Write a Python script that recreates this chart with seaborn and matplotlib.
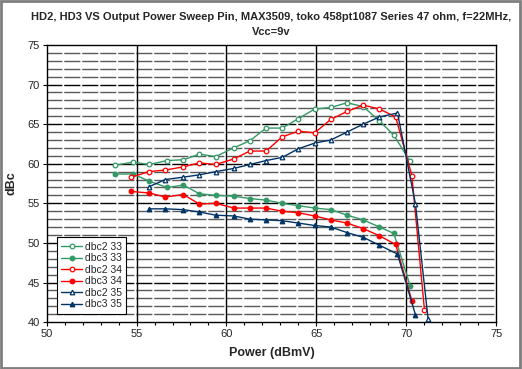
import matplotlib
matplotlib.use("Agg")
import matplotlib.pyplot as plt
import numpy as np
import pandas as pd
import seaborn as sns
from matplotlib.ticker import MultipleLocator
from matplotlib.patches import Rectangle

# data
x_33 = [53.8, 54.8, 55.7, 56.7, 57.6, 58.5, 59.4, 60.4, 61.3, 62.2, 63.1, 64.0, 64.9, 65.8, 66.7, 67.6, 68.5, 69.3, 70.2]
dbc2_33 = [59.8, 60.2, 59.9, 60.4, 60.5, 61.2, 60.9, 62.0, 62.9, 64.5, 64.5, 65.7, 66.9, 67.1, 67.7, 67.2, 65.4, 63.6, 60.3]
dbc3_33 = [58.7, 58.7, 57.8, 57.0, 57.3, 56.2, 56.0, 55.9, 55.6, 55.4, 55.0, 54.7, 54.4, 54.2, 53.5, 52.9, 52.0, 51.2, 44.6]

x2_34 = [54.7, 55.7, 56.6, 57.6, 58.5, 59.4, 60.4, 61.3, 62.2, 63.1, 64.0, 64.9, 65.8, 66.7, 67.6, 68.5, 69.4, 70.3, 71.0]
dbc2_34 = [58.3, 59.0, 59.2, 59.6, 60.1, 59.9, 60.6, 61.6, 61.6, 63.4, 64.1, 63.9, 65.6, 66.6, 67.4, 66.9, 65.9, 58.5, 41.5]
x3_34 = [54.7, 55.7, 56.6, 57.6, 58.5, 59.4, 60.4, 61.3, 62.2, 63.1, 64.0, 64.9, 65.8, 66.7, 67.6, 68.5, 69.4, 70.3]
dbc3_34 = [56.5, 56.3, 55.8, 56.1, 54.9, 55.0, 54.4, 54.4, 54.4, 54.0, 53.8, 53.4, 52.9, 52.5, 51.8, 50.9, 49.8, 42.7]

x2_35 = [55.7, 56.6, 57.6, 58.5, 59.4, 60.4, 61.3, 62.2, 63.1, 64.0, 64.9, 65.8, 66.7, 67.6, 68.5, 69.5, 70.5, 71.2]
dbc2_35 = [57.1, 58.0, 58.3, 58.6, 59.0, 59.4, 59.9, 60.4, 60.8, 61.9, 62.6, 63.0, 64.0, 65.0, 65.9, 66.4, 54.9, 40.4]
x3_35 = [55.7, 56.6, 57.6, 58.5, 59.4, 60.4, 61.3, 62.2, 63.1, 64.0, 64.9, 65.8, 66.7, 67.6, 68.5, 69.5, 70.5]
dbc3_35 = [54.3, 54.3, 54.2, 53.9, 53.5, 53.4, 53.0, 52.9, 52.8, 52.5, 52.2, 52.0, 51.3, 50.7, 49.7, 48.6, 40.9]

series = [
    ("dbc2 33", x_33, dbc2_33, "#339966", "o", True),
    ("dbc3 33", x_33, dbc3_33, "#339966", "o", False),
    ("dbc2 34", x2_34, dbc2_34, "#ff0000", "o", True),
    ("dbc3 34", x3_34, dbc3_34, "#ff0000", "o", False),
    ("dbc2 35", x2_35, dbc2_35, "#003366", "^", True),
    ("dbc3 35", x3_35, dbc3_35, "#003366", "^", False),
]

sns.set_style("white")
plt.rcParams['font.family'] = ['Liberation Sans', 'DejaVu Sans']

fig = plt.figure(figsize=(5.22, 3.69), dpi=100)
ax = fig.add_axes([0.0891, 0.1271, 0.862, 0.7512])

# grid: horizontal every 1 dBc, vertical every 5 dBmV
for yv in range(41, 75):
    col = "black" if yv % 5 == 0 else "#5a5a5a"
    ax.axhline(yv, color=col, lw=1.0, linestyle=(0.9, (11.6, 1.36)), zorder=1)
for xv in [55, 60, 65, 70]:
    ax.axvline(xv, color="black", lw=1.0, zorder=1)

for name, xs, ys, col, mk, hollow in series:
    df = pd.DataFrame({"x": xs, "y": ys})
    sns.lineplot(data=df, x="x", y="y", ax=ax, color=col, lw=1.0, sort=False,
                 marker=mk, markersize=3.3,
                 markerfacecolor="white" if hollow else col,
                 markeredgecolor=col, markeredgewidth=0.9,
                 label=name, zorder=3)

ax.set_xlim(50, 75)
ax.set_ylim(40, 75)
ax.xaxis.set_major_locator(MultipleLocator(5))
ax.xaxis.set_minor_locator(MultipleLocator(1))
ax.yaxis.set_major_locator(MultipleLocator(5))
ax.tick_params(axis="both", which="major", direction="out", length=3, width=0.8,
               labelsize=8, color="black", pad=2, bottom=True, left=True)
ax.tick_params(axis="x", which="minor", direction="out", length=2, width=0.8,
               color="black", bottom=True)
for s in ax.spines.values():
    s.set_color("black")
    s.set_linewidth(1.0)

ax.set_xlabel("Power (dBmV)", fontsize=9, fontweight="bold", labelpad=6)
ax.set_ylabel("dBc", fontsize=9, fontweight="bold", labelpad=7)

fig.text(0.52, 0.955, "HD2, HD3 VS Output Power Sweep Pin, MAX3509, toko 458pt1087 Series 47 ohm, f=22MHz,",
         ha="center", va="center", fontsize=8, fontweight="bold")
fig.text(0.52, 0.913, "Vcc=9v", ha="center", va="center", fontsize=8, fontweight="bold")

leg = ax.legend(loc="lower left", bbox_to_anchor=(0.012, 0.012), fontsize=7.5,
                frameon=True, fancybox=False, framealpha=1, edgecolor="black",
                borderpad=0.4, labelspacing=0.15, handlelength=2.0, handletextpad=0.3)
leg.get_frame().set_linewidth(0.8)

fig.patches.append(Rectangle((0.002, 0.003), 0.994, 0.993, transform=fig.transFigure,
                             fill=False, edgecolor="#7f7f7f", lw=2))

fig.savefig("out.png", dpi=100, facecolor="white")
